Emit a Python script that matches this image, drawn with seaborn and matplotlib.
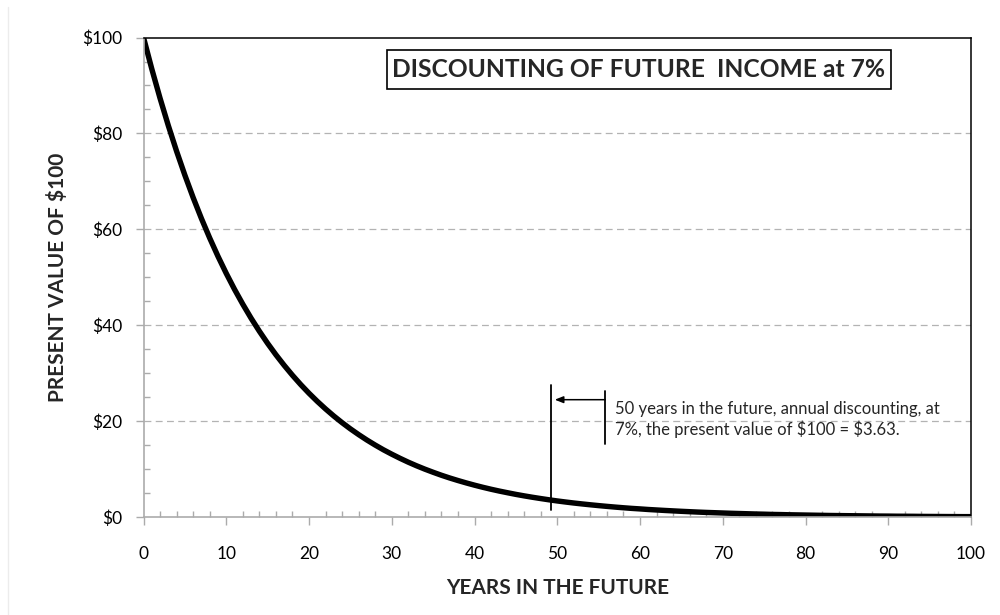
import numpy as np
import pandas as pd
import matplotlib
matplotlib.use("Agg")
import matplotlib.pyplot as plt
from matplotlib.ticker import MultipleLocator, FuncFormatter
from matplotlib.lines import Line2D
from matplotlib.patches import Rectangle
import seaborn as sns

# Present value of $100 received t years from now, discounted annually at 7%
years = list(range(0, 101))
present_value = [
    100.00, 93.46, 87.34, 81.63, 76.29, 71.30, 66.63, 62.27, 58.20, 54.39,
    50.83, 47.50, 44.40, 41.49, 38.78, 36.24, 33.87, 31.66, 29.59, 27.65,
    25.84, 24.15, 22.57, 21.09, 19.71, 18.42, 17.22, 16.09, 15.04, 14.05,
    13.14, 12.28, 11.47, 10.72, 10.02, 9.37, 8.75, 8.18, 7.65, 7.15,
    6.68, 6.24, 5.83, 5.45, 5.10, 4.76, 4.45, 4.16, 3.89, 3.63,
    3.39, 3.17, 2.96, 2.77, 2.59, 2.42, 2.26, 2.11, 1.97, 1.84,
    1.73, 1.61, 1.51, 1.41, 1.32, 1.23, 1.15, 1.07, 1.00, 0.94,
    0.88, 0.82, 0.77, 0.72, 0.67, 0.63, 0.58, 0.55, 0.51, 0.48,
    0.45, 0.42, 0.39, 0.36, 0.34, 0.32, 0.30, 0.28, 0.26, 0.24,
    0.23, 0.21, 0.20, 0.19, 0.17, 0.16, 0.15, 0.14, 0.13, 0.12,
    0.12,
]
y_ticks = [0, 20, 40, 60, 80, 100]
x_ticks = [0, 10, 20, 30, 40, 50, 60, 70, 80, 90, 100]

marker_year = 49.3
marker_value = 3.63
title_text = "DISCOUNTING OF FUTURE  INCOME at 7%"
note_text = ("50 years in the future, annual discounting, at\n"
             f"7%, the present value of $100 = ${marker_value:.2f}.")

df = pd.DataFrame({"year": years, "pv": present_value})

sns.set_style("white")
plt.rcParams["font.family"] = ["Lato", "DejaVu Sans"]
plt.rcParams["text.parse_math"] = False

fig = plt.figure(figsize=(10, 6.15), dpi=100)
ax = fig.add_axes([0.1435, 0.159, 0.8275, 0.780])

sns.lineplot(data=df, x="year", y="pv", color="black", linewidth=3.9, ax=ax)

ax.set_xlim(0, 100)
ax.set_ylim(0, 100)

# dashed horizontal gridlines at the interior major ticks
for yv in y_ticks[1:-1]:
    ax.axhline(yv, color="#b3b3b3", linewidth=0.9, dashes=(5.5, 3.5), zorder=0)

grey = "#ababab"
ax.set_xticks(x_ticks)
ax.set_yticks(y_ticks)
ax.xaxis.set_minor_locator(MultipleLocator(2))
ax.yaxis.set_minor_locator(MultipleLocator(5))
ax.yaxis.set_major_formatter(FuncFormatter(lambda v, p: f"${v:.0f}"))
ax.tick_params(axis="both", which="major", direction="out", length=6,
               width=1, color=grey, labelsize=12.5, labelcolor="black")
ax.tick_params(axis="x", which="major", pad=15)
ax.tick_params(axis="y", which="major", pad=9.5)
ax.tick_params(axis="both", which="minor", direction="in", length=4,
               width=1, color=grey)
ax.tick_params(bottom=True, left=True, which="both")

for side in ("left", "bottom"):
    ax.spines[side].set_color(grey)
    ax.spines[side].set_linewidth(1.2)
for side in ("top", "right"):
    ax.spines[side].set_color("black")
    ax.spines[side].set_linewidth(1.1)

ax.set_xlabel("YEARS IN THE FUTURE", fontsize=15, fontweight="bold", labelpad=11)
ax.set_ylabel("PRESENT VALUE OF $100", fontsize=15, fontweight="bold", labelpad=10)

# boxed title inside the plot area
ax.add_patch(Rectangle((29.4, 89.2), 60.9, 8.2, facecolor="white",
                       edgecolor="black", linewidth=1.2, zorder=3))
ax.text(59.85, 93.3, title_text, ha="center", va="center", fontsize=17.7,
        fontweight="bold", zorder=4)

# marker at the 50-year point with a pointer to the note
ax.plot([marker_year, marker_year], [1.5, 27.6], color="black", linewidth=1.3)
ax.plot([55.8, 55.8], [15.3, 26.4], color="black", linewidth=1.3)
ax.annotate("", xy=(marker_year + 0.4, 24.5), xytext=(55.8, 24.5),
            arrowprops=dict(arrowstyle="-|>,head_length=0.5,head_width=0.2",
                            color="black", linewidth=1.1, shrinkA=0, shrinkB=0))
ax.text(57.0, 20.4, note_text, ha="left", va="center", fontsize=12,
        linespacing=1.2)

fig.add_artist(Line2D([0.008, 0.008], [0.0, 0.988], color="#ececec",
                      linewidth=1.0))

fig.savefig("out.png", dpi=100, facecolor="white")
